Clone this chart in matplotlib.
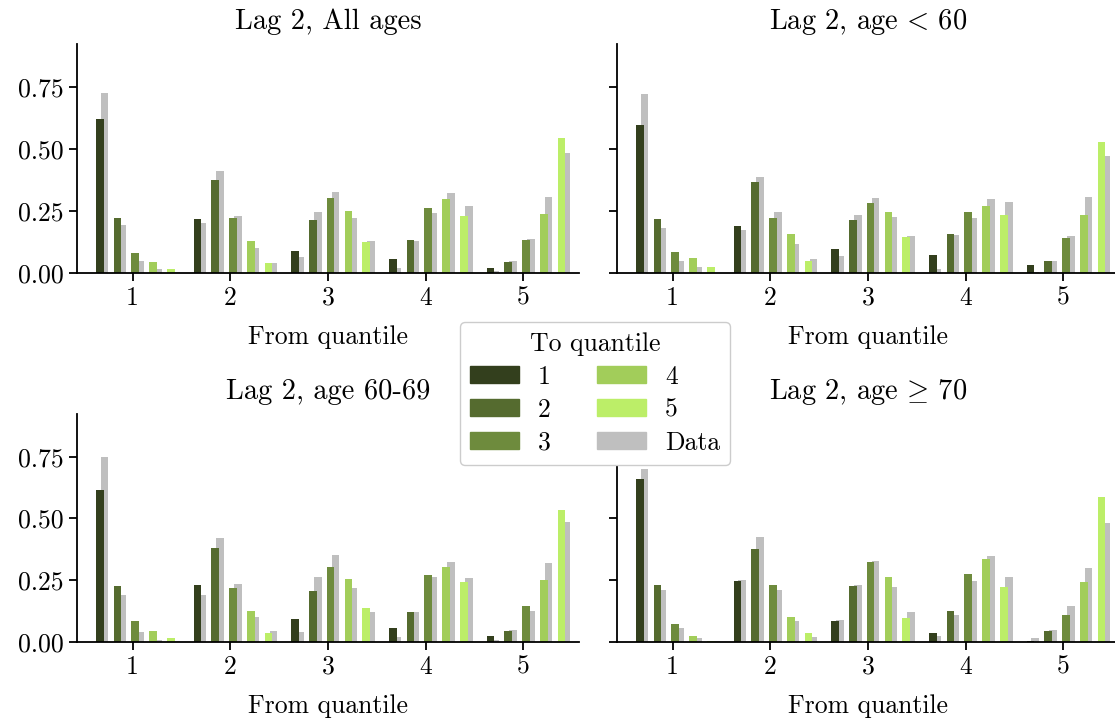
import numpy as np
import matplotlib
matplotlib.use('Agg')
import matplotlib.pyplot as plt
from matplotlib.patches import Patch
from matplotlib.ticker import FormatStrFormatter

plt.rcParams['font.family'] = 'serif'
plt.rcParams['font.serif'] = ['cmr10']
plt.rcParams['mathtext.fontset'] = 'cm'
plt.rcParams['axes.unicode_minus'] = False

titles = ['Lag 2, All ages', r'Lag 2, age$\,<\,$60', 'Lag 2, age 60-69', r'Lag 2, age$\,\geq\,$70']
from_q = [1, 2, 3, 4, 5]
to_labels = ['1', '2', '3', '4', '5']

# rows: from quantile 1..5, columns: to quantile 1..5
model_all = [[0.622, 0.223, 0.082, 0.046, 0.017],
             [0.219, 0.376, 0.223, 0.130, 0.042],
             [0.090, 0.215, 0.304, 0.251, 0.126],
             [0.058, 0.134, 0.263, 0.300, 0.231],
             [0.022, 0.046, 0.134, 0.239, 0.546]]
data_all = [[0.727, 0.195, 0.050, 0.017, 0.005],
            [0.203, 0.413, 0.231, 0.102, 0.042],
            [0.066, 0.245, 0.328, 0.223, 0.130],
            [0.022, 0.130, 0.243, 0.324, 0.272],
            [0.009, 0.050, 0.138, 0.308, 0.482]]

model_u60 = [[0.598, 0.219, 0.086, 0.062, 0.026],
             [0.191, 0.368, 0.223, 0.159, 0.050],
             [0.098, 0.215, 0.284, 0.247, 0.147],
             [0.074, 0.159, 0.247, 0.272, 0.235],
             [0.034, 0.050, 0.142, 0.235, 0.526]]
data_u60 = [[0.723, 0.183, 0.050, 0.026, 0.002],
            [0.175, 0.388, 0.247, 0.118, 0.058],
            [0.070, 0.235, 0.304, 0.227, 0.151],
            [0.017, 0.155, 0.223, 0.300, 0.288],
            [0.005, 0.050, 0.151, 0.308, 0.473]]

model_6069 = [[0.615, 0.227, 0.086, 0.046, 0.017],
              [0.232, 0.381, 0.219, 0.124, 0.038],
              [0.094, 0.207, 0.304, 0.256, 0.139],
              [0.058, 0.122, 0.272, 0.304, 0.243],
              [0.026, 0.046, 0.147, 0.249, 0.535]]
data_6069 = [[0.748, 0.191, 0.042, 0.009, 0.004],
             [0.191, 0.421, 0.235, 0.102, 0.046],
             [0.042, 0.264, 0.353, 0.219, 0.122],
             [0.022, 0.122, 0.264, 0.324, 0.260],
             [0.009, 0.050, 0.126, 0.321, 0.487]]

model_70 = [[0.659, 0.231, 0.074, 0.026, 0.005],
            [0.247, 0.376, 0.231, 0.103, 0.038],
            [0.086, 0.227, 0.324, 0.263, 0.098],
            [0.038, 0.126, 0.276, 0.336, 0.223],
            [0.005, 0.046, 0.110, 0.243, 0.586]]
data_70 = [[0.699, 0.211, 0.058, 0.017, 0.005],
           [0.251, 0.425, 0.211, 0.087, 0.022],
           [0.090, 0.231, 0.328, 0.223, 0.122],
           [0.026, 0.110, 0.247, 0.348, 0.263],
           [0.017, 0.050, 0.147, 0.300, 0.481]]

models = [model_all, model_u60, model_6069, model_70]
datas = [data_all, data_u60, data_6069, data_70]

colors = ['#333f1d', '#556b2f', '#6e8b3d', '#a2cd5a', '#bcee68']
data_color = '#bfbfbf'

fig = plt.figure(figsize=(11.15, 7.24), dpi=100)
W, H = 1115, 724
boxes = [(77, 44, 579, 273), (617, 44, 1119, 273),
         (77, 414, 579, 642), (617, 414, 1119, 642)]

x = np.array(from_q, dtype=float)
width = 0.079
step = 0.182
first = -0.337
shift = 0.05

for i in range(4):
    l, t, r, b = boxes[i]
    ax = fig.add_axes([l / W, 1 - b / H, (r - l) / W, (b - t) / H])
    m = np.array(models[i])
    d = np.array(datas[i])
    for k in range(5):
        xs = x + first + k * step
        ax.bar(xs + shift, d[:, k], width=width, color=data_color, zorder=1)
        ax.bar(xs, m[:, k], width=width, color=colors[k], zorder=2)
    ax.set_xlim(0.43, 5.57)
    ax.set_ylim(0, 0.923)
    ax.set_xticks(from_q)
    ax.set_yticks([0, 0.25, 0.5, 0.75])
    ax.yaxis.set_major_formatter(FormatStrFormatter('%.2f'))
    if i % 2 == 1:
        ax.set_yticklabels([])
    ax.spines['top'].set_visible(False)
    ax.spines['right'].set_visible(False)
    ax.spines['left'].set_linewidth(1.3)
    ax.spines['bottom'].set_linewidth(1.3)
    ax.tick_params(labelsize=18.5, width=1.3, length=6)
    ax.set_xlabel('From quantile', fontsize=18.5, labelpad=11)
    ax.set_title(titles[i], fontsize=20.5, pad=11)

handles = [Patch(color=c) for c in colors] + [Patch(color=data_color)]
fig.legend(handles, to_labels + ['Data'], title='To quantile', ncol=2,
           loc='center', bbox_to_anchor=(595 / W, 1 - 393.5 / H),
           fontsize=18.5, title_fontsize=18.5, handlelength=1.9,
           handleheight=0.65, handletextpad=0.75, columnspacing=1.8,
           labelspacing=0.36, framealpha=1)

fig.savefig('out.png', dpi=100)
